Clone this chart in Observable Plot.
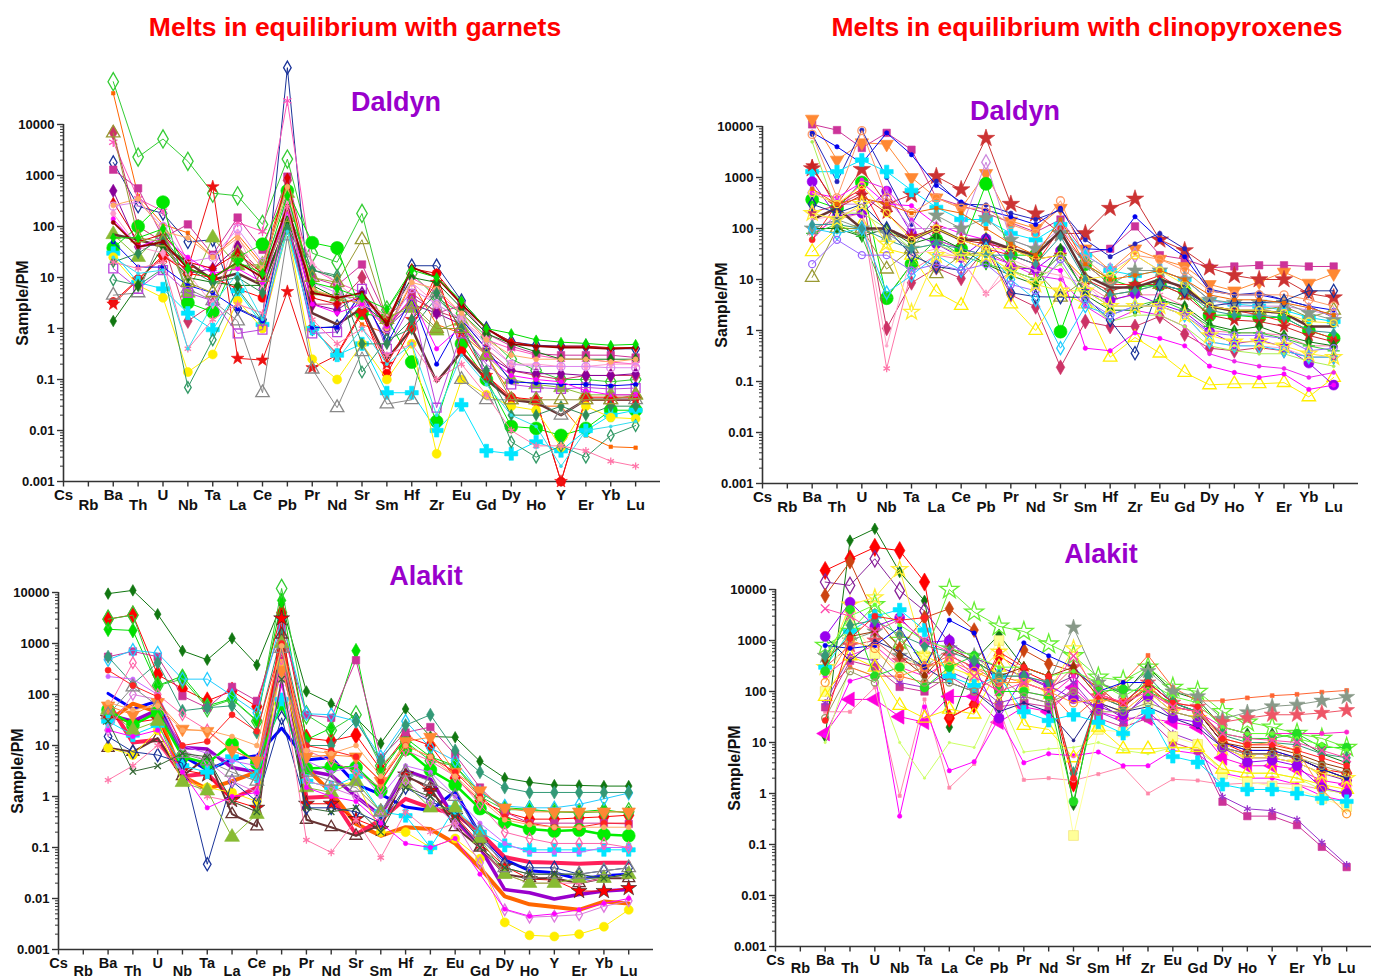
<!DOCTYPE html>
<html><head><meta charset="utf-8">
<script src="https://cdn.jsdelivr.net/npm/d3@7"></script>
<script src="https://cdn.jsdelivr.net/npm/@observablehq/plot@0.6"></script>
<style>
body{margin:0;background:#fff;}
#root{position:relative;width:1373px;height:979px;overflow:hidden;background:#fff;font-family:"Liberation Sans",Arial,Helvetica,sans-serif;}
.title{position:absolute;white-space:nowrap;font-weight:bold;transform:translateX(-50%);line-height:1;}
.main{color:#ff0000;font-size:26.5px;}
.sub{color:#9900cc;font-size:27px;}
.panel{position:absolute;}
g[aria-label="ylab"] text{letter-spacing:0.8px;}
</style></head>
<body>
<div id="root">
  <div class="title main" style="left:355px;top:13.6px">Melts in equilibrium with garnets</div>
  <div class="title main" style="left:1087px;top:13.6px">Melts in equilibrium with clinopyroxenes</div>
  <div class="title sub" style="left:396px;top:88.5px">Daldyn</div>
  <div class="title sub" style="left:1015px;top:98px">Daldyn</div>
  <div class="title sub" style="left:426px;top:563px">Alakit</div>
  <div class="title sub" style="left:1101px;top:541px">Alakit</div>
</div>
<script>
// ---------------- data ----------------
const ELEMENTS = ["Cs","Rb","Ba","Th","U","Nb","Ta","La","Ce","Pb","Pr","Nd","Sr","Sm","Hf","Zr","Eu","Gd","Dy","Ho","Y","Er","Yb","Lu"];
const FIRST_WITH_DATA = 2; // series start at Ba
const Y_TICKS = [0.001, 0.01, 0.1, 1, 10, 100, 1000, 10000];
const Y_TICK_LABELS = ["0.001","0.01","0.1","1","10","100","1000","10000"];

// Garnet melts, Daldyn (Ba ... Lu)
const garnetDaldynValues = [
  [69000, 2300, 5200, 1900, 450, 400, 110, 2100, 30, 20, 180, 2.3, 12, 4, 2, 0.7, 0.25, 0.15, 0.1, 0.1, 0.09, 0.1],
  [41000, 400, 110, 75, 25, 70, 18, 900, 5, 4.5, 1.2, 0.8, 8, 1.2, 0.8, 0.3, 0.05, 0.03, 0.03, 0.008, 0.0048, 0.0046],
  [1800, 250, 180, 50, 55, 2.5, 1.5, 130000, 1, 1.1, 4, 0.6, 17, 17, 3.5, 1, 0.55, 0.47, 0.45, 0.45, 0.4, 0.4],
  [4500, 350, 200, 20, 15, 120, 80, 29000, 15, 8, 5, 1.5, 10, 5, 2, 0.6, 0.4, 0.3, 0.25, 0.25, 0.22, 0.2],
  [1300, 560, 60, 110, 28, 150, 35, 950, 10, 7, 18, 1.6, 5, 2, 2.8, 0.8, 0.45, 0.32, 0.3, 0.3, 0.3, 0.27],
  [7000, 100, 50, 1.4, 3, 40, 12, 800, 3, 3, 10, 1, 4, 2.2, 1.5, 0.4, 0.15, 0.12, 0.1, 0.12, 0.12, 0.12],
  [500, 40, 45, 12, 15, 40, 6, 300, 3, 2.3, 5, 1, 3, 2, 1.2, 0.3, 0.15, 0.13, 0.13, 0.12, 0.12, 0.13],
  [38, 100, 300, 3.2, 2.1, 25, 45, 500, 48, 38, 2, 1.6, 0.22, 0.015, 0.5, 0.1, 0.012, 0.011, 0.008, 0.011, 0.025, 0.025],
  [70, 25, 80, 5, 60, 17, 18, 450, 5.5, 4.2, 4, 1.7, 2.5, 0.9, 1.4, 0.3, 0.1, 0.08, 0.07, 0.05, 0.05, 0.05],
  [70, 55, 40, 20, 9, 12, 7, 110, 2, 1.2, 2.5, 0.25, 1, 0.09, 0.35, 0.1, 0.04, 0.035, 0.02, 0.04, 0.04, 0.04],
  [3.3, 9.3, 27, 12, 10, 6, 4, 120, 1, 0.32, 2.2, 0.13, 1, 12, 0.36, 0.12, 0.045, 0.04, 0.001, 0.045, 0.045, 0.045],
  [3, 9, 25, 15, 600, 0.26, 0.24, 5.3, 0.17, 0.3, 2, 0.2, 1.5, 8, 0.8, 0.12, 0.04, 0.04, 0.001, 0.04, 0.04, 0.04],
  [30, 8, 6, 2, 0.95, 5.5, 1.2, 100, 1, 0.3, 0.5, 0.055, 0.055, 0.01, 0.032, 0.004, 0.0035, 0.006, 0.004, 0.01, 0.02, 0.025],
  [25, 7, 4, 0.14, 0.31, 3.5, 1, 90, 0.25, 0.1, 0.5, 0.1, 0.5, 0.0035, 0.1, 0.05, 0.03, 0.025, 0.0047, 0.03, 0.018, 0.017],
  [9, 7, 15, 0.07, 0.6, 6, 1.4, 200, 14, 11, 0.14, 0.6, 1, 4, 1.3, 0.1, 0.006, 0.003, 0.005, 0.003, 0.008, 0.0125],
  [4.5, 5, 70, 6, 3.5, 1.4, 0.055, 65, 0.16, 0.028, 0.35, 0.033, 0.04, 5, 0.1, 0.04, 0.04, 0.04, 0.02, 0.04, 0.04, 0.04],
  [15, 6, 14, 5, 3.5, 0.8, 0.95, 150, 0.8, 0.85, 6, 0.4, 3, 0.028, 0.8, 0.2, 0.08, 0.07, 0.065, 0.07, 0.065, 0.068],
  [50, 16, 16, 7, 5, 2.4, 1.4, 300, 1.05, 1.05, 5, 0.5, 4, 0.2, 1.5, 0.4, 0.09, 0.085, 0.08, 0.08, 0.075, 0.08],
  [1.4, 7, 40, 10, 8, 7, 7, 130, 7, 4, 3, 1.3, 10, 8, 2.5, 0.8, 0.5, 0.35, 0.25, 0.25, 0.25, 0.25],
  [180, 40, 30, 12, 3, 70, 6, 300, 18, 8, 3, 1.8, 8, 3, 1.5, 0.6, 0.2, 0.2, 0.18, 0.18, 0.2, 0.2],
  [300, 50, 70, 20, 15, 30, 12, 900, 4, 3, 4, 1.4, 15, 12, 3, 1, 0.55, 0.45, 0.45, 0.45, 0.42, 0.42],
  [250, 300, 100, 20, 25, 90, 20, 200, 8, 5, 3, 1, 6, 3, 1.5, 0.5, 0.2, 0.18, 0.18, 0.18, 0.17, 0.17],
  [260, 350, 80, 60, 25, 60, 15, 600, 6, 4, 3, 1, 8, 6, 2, 0.6, 0.3, 0.25, 0.25, 0.25, 0.22, 0.25],
  [140, 40, 60, 25, 12, 15, 8, 200, 3, 2, 3, 1.1, 4, 0.4, 1.1, 0.3, 0.12, 0.1, 0.09, 0.06, 0.05, 0.05],
  [20, 30, 60, 15, 8, 10, 5, 90, 14, 10, 0.5, 0.5, 1.5, 5, 1, 0.15, 0.02, 0.02, 0.03, 0.02, 0.03, 0.03],
  [6800, 60, 50, 8, 5, 30, 10, 150, 10, 8, 55, 1.5, 3, 1, 1, 0.3, 0.04, 0.04, 0.04, 0.04, 0.04, 0.05],
  [120, 40, 50, 15, 10, 20, 10, 250, 5, 4, 5, 1.2, 16, 10, 3, 1, 0.5, 0.45, 0.42, 0.42, 0.4, 0.42],
  [20, 15, 20, 0.4, 1.5, 3, 2, 250, 1.5, 0.5, 1, 0.3, 0.5, 0.1, 0.2, 0.05, 0.01, 0.005, 0.005, 0.004, 0.0025, 0.002],
  [60, 60, 90, 15, 10, 20, 12, 400, 8, 6, 4, 2.4, 14, 10, 3.5, 1, 0.8, 0.6, 0.54, 0.51, 0.47, 0.49],
  [25, 12, 14, 0.4, 3, 12, 1.5, 80, 1.2, 0.25, 1, 0.2, 0.5, 0.02, 0.3, 0.08, 0.02, 0.012, 0.002, 0.01, 0.012, 0.015]
];
const garnetDaldynStyles = ["greenOpenDiamond","orangeSq","navyOpenDiamond","pinkOpenStar","magSq","crimDiamond","purpleDiamond","greenBig","oliveTri","brownThick","redDot","redStar","cyanCross","yellowDot","tealOpenDiamond","grayOpenTri","violetOpenSq","blueDot","dkGreenDiamond","ltPinkDiamond","redSmDiamond","lavOpenCircle","salmonDot","magDot","seaDiamond","oliveOpenTri","darkRed","pinkAst","greenTop","cyanLine"];

// Clinopyroxene melts, Daldyn
const cpxDaldynValues = [
  [11000, 8500, 3800, 7500, 3500, 400, 280, 200, 130, 85, 150, 32, 40, 110, 30, 25, 17, 18, 19, 19, 18, 18],
  [14000, 2200, 4800, 4500, 1000, 400, 250, 1200, 140, 100, 250, 40, 15, 40, 25, 18, 8, 6, 9, 14, 8.5, 13],
  [1500, 300, 1450, 300, 460, 1050, 580, 5900, 300, 195, 80, 80, 250, 380, 60, 37, 17, 12, 10, 10, 5.3, 4.4],
  [7700, 4000, 1900, 7500, 2800, 700, 330, 230, 170, 120, 250, 40, 38, 170, 60, 28, 6, 5, 5, 4, 3, 2.5],
  [7000, 830, 8500, 1000, 120, 850, 300, 290, 200, 150, 230, 60, 28, 50, 80, 40, 6.5, 5, 5.5, 4, 3, 1.8],
  [1300, 1300, 2200, 1300, 560, 260, 150, 150, 80, 60, 120, 30, 15, 12, 15, 10, 4, 3.3, 3, 2.5, 1.8, 1.5],
  [370, 250, 800, 4.3, 20, 60, 40, 750, 30, 30, 0.95, 20, 10, 7, 8, 6, 2, 2, 1.8, 1.8, 1, 0.7],
  [210, 280, 500, 1.1, 8.6, 17, 10.5, 40, 5, 2.9, 0.19, 1.5, 1.2, 1.2, 1.9, 0.85, 0.45, 0.4, 0.46, 0.4, 0.3, 0.3],
  [80, 150, 200, 0.18, 15, 30, 25, 5.3, 15, 10, 30, 8, 4, 5, 5, 3, 1, 0.9, 0.9, 0.8, 0.5, 0.5],
  [35, 100, 120, 40, 30, 5.7, 3.1, 60, 3.3, 1.0, 5.6, 3.3, 0.3, 0.73, 0.36, 0.15, 0.086, 0.09, 0.09, 0.095, 0.05, 0.12],
  [11, 100, 100, 16, 40, 13, 30, 35, 20, 15, 4.5, 10, 5, 6, 8, 5, 3, 2.5, 2.5, 3, 1.8, 2.5],
  [830, 170, 200, 540, 80, 50, 27, 63, 17, 16, 37, 5.5, 3.9, 5.2, 3.3, 2.3, 0.95, 0.55, 0.65, 0.48, 0.23, 0.085],
  [500, 400, 800, 300, 280, 120, 80, 60, 30, 20, 15, 0.45, 0.4, 0.9, 0.7, 0.5, 0.2, 0.15, 0.12, 0.14, 0.07, 0.085],
  [60, 200, 900, 600, 150, 60, 40, 30, 20, 12, 10, 3, 1.5, 2.5, 2, 1.2, 0.35, 0.25, 0.2, 0.18, 0.12, 0.15],
  [500, 300, 300, 400, 100, 100, 100, 2000, 60, 40, 100, 30, 15, 30, 15, 10, 4, 3, 3, 3, 2.5, 2],
  [60, 300, 600, 80, 60, 100, 60, 40, 30, 20, 100, 20, 8, 8, 12, 6, 3, 2.5, 2, 1.5, 1, 0.7],
  [1700, 250, 450, 200, 70, 100, 60, 50, 40, 25, 30, 10, 6, 8, 8, 5, 2, 1.6, 1.5, 1.2, 0.8, 0.6],
  [100, 100, 70, 100, 50, 70, 40, 20, 12, 8, 40, 5, 2.5, 2.5, 4, 3, 1.3, 1, 1.2, 0.8, 0.6, 0.5],
  [80, 120, 70, 4.5, 20, 60, 30, 20, 15, 10, 30, 6, 3, 3, 4, 2.5, 1.2, 0.9, 0.9, 0.7, 0.5, 0.4],
  [100, 150, 100, 80, 40, 180, 100, 160, 60, 40, 80, 20, 8, 15, 15, 10, 4, 3.5, 3.5, 3.5, 2.2, 1.6],
  [150, 250, 100, 100, 60, 100, 60, 60, 40, 30, 90, 12, 7, 7, 10, 7, 3, 2.4, 2.4, 2.2, 1.2, 1.2],
  [5000, 200, 200, 100, 40, 50, 30, 30, 15, 10, 20, 4, 1.5, 2, 2, 1.2, 0.5, 0.4, 0.35, 0.35, 0.25, 0.2],
  [150, 180, 250, 0.5, 30, 40, 25, 5, 25, 15, 12, 8, 3, 3, 3, 2, 0.6, 0.5, 0.5, 0.45, 0.3, 0.3],
  [7000, 400, 8300, 400, 200, 400, 250, 250, 120, 80, 350, 25, 10, 30, 25, 15, 6, 5, 5, 5, 4, 3],
  [300, 200, 300, 100, 30, 18, 15, 60, 5.5, 4.6, 4.5, 4.5, 1.6, 0.36, 8, 6, 3, 3.5, 3.5, 3.8, 6, 6],
  [100, 80, 100, 5.5, 12, 30, 15, 40, 10, 4, 0.45, 3, 2, 3, 3, 2, 0.6, 0.5, 0.5, 0.4, 0.3, 0.3],
  [500, 300, 700, 200, 60, 100, 60, 40, 40, 25, 30, 10, 12, 30, 15, 8, 3, 2.5, 2.5, 2.2, 1.5, 1.4],
  [600, 300, 400, 300, 200, 250, 200, 100, 50, 30, 150, 20, 10, 12, 15, 10, 5, 4, 4, 3.5, 2.8, 2],
  [120, 120, 100, 60, 40, 50, 40, 30, 30, 20, 70, 10, 5, 6, 8, 6, 2.5, 2, 2, 1.8, 1, 0.9],
  [20, 60, 30, 30, 15, 20, 15, 20, 8, 6, 25, 4, 2, 3, 3, 2, 0.9, 0.8, 0.8, 0.7, 0.4, 0.45],
  [200, 150, 300, 50, 2.3, 30, 30, 30, 15, 8, 6, 6, 3, 3, 3, 2, 0.8, 0.6, 0.6, 0.5, 0.35, 0.3]
];
const cpxDaldynStyles = ["magSq","orangeTriDown","brickStar","blueDot","blueDot2","cyanCross","greenBig","crimDiamond","pinkAst","yellowOpenTri","oliveOpenTri","purpleBig","magDot","magDot2","lilacOpenDiamond","redDotSm","darkRedStar","dkGreenDiamond","ltGreenPlus","grayStar","brownThick","paleGreen","ltPinkLine","salmonOpenCircle","navyOpenDiamond","cyanOpenDiamond","yellowOpenCircle","dkOrange","tealDiamond","violetOpenCircle","yellowOpenStar"];

// Garnet melts, Alakit
const garnetAlakitValues = [
  [9500, 11000, 3760, 720, 480, 1260, 380, 6000, 115, 66, 35, 11, 52, 15, 14.5, 4.9, 2.3, 1.9, 1.67, 1.65, 1.6, 1.6],
  [3000, 3650, 245, 130, 75, 117, 58, 4000, 14, 12.3, 16, 3.4, 15, 10, 2.3, 0.83, 0.49, 0.36, 0.36, 0.38, 0.4, 0.43],
  [1900, 1800, 150, 230, 60, 83, 31, 7000, 13, 22, 720, 3, 14, 6, 4, 1.2, 0.6, 0.56, 0.5, 0.5, 0.55, 0.47],
  [3000, 3600, 150, 200, 55, 80, 30, 12000, 40, 20, 40, 4, 12, 5, 4, 1, 0.55, 0.55, 0.5, 0.48, 0.5, 0.5],
  [550, 700, 550, 93, 55, 141, 75, 2000, 40, 35, 470, 5.8, 18, 23, 6.6, 1.5, 0.5, 0.3, 0.3, 0.3, 0.3, 0.29],
  [480, 740, 650, 200, 200, 95, 44, 3000, 42, 40, 30, 6, 30, 9, 5, 1.2, 0.65, 0.6, 0.6, 0.7, 0.9, 1.17],
  [550, 160, 420, 48, 55, 60, 18, 1500, 10, 10, 30, 5, 25, 40, 8, 3, 1.5, 1.2, 1.2, 1.2, 1.2, 1.2],
  [105, 52, 75, 6.3, 3.3, 5.3, 6.3, 22, 5.2, 5.8, 1.75, 1.1, 0.62, 0.53, 1.27, 0.18, 0.058, 0.035, 0.032, 0.024, 0.028, 0.03],
  [40, 30, 50, 9.1, 8.5, 3.7, 3.0, 500, 3.2, 2.6, 1.0, 0.42, 3.2, 2.2, 0.36, 0.1, 0.015, 0.013, 0.0098, 0.012, 0.014, 0.015],
  [30, 66, 45, 2.5, 1.4, 2.0, 3.0, 1000, 3.6, 1.2, 0.29, 0.17, 0.25, 0.23, 0.12, 0.04, 0.011, 0.0077, 0.0068, 0.006, 0.0087, 0.008],
  [70, 11.4, 13, 2.5, 2.8, 0.9, 1.5, 1000, 0.95, 1.0, 0.18, 0.35, 0.9, 0.6, 0.45, 0.2, 0.065, 0.052, 0.05, 0.048, 0.05, 0.05],
  [35, 28, 33, 3.3, 2.7, 0.85, 0.6, 3100, 0.72, 0.72, 0.36, 0.23, 2.7, 1.3, 0.42, 0.12, 0.043, 0.024, 0.023, 0.014, 0.014, 0.016],
  [9, 7.5, 14, 2.5, 6, 0.45, 0.26, 1500, 0.35, 0.25, 0.17, 0.28, 2.5, 1.5, 0.25, 0.1, 0.03, 0.025, 0.025, 0.02, 0.025, 0.025],
  [9, 6.5, 20, 2, 1.5, 1.2, 0.8, 400, 2, 1.5, 2, 0.2, 0.2, 0.1, 0.15, 0.06, 0.0034, 0.0019, 0.0018, 0.002, 0.0028, 0.006],
  [50, 25, 45, 6, 4.5, 10.7, 4.5, 65, 3.5, 3.8, 3.7, 1.3, 8.4, 3.3, 1.7, 0.58, 0.31, 0.23, 0.21, 0.22, 0.18, 0.17],
  [30, 16, 25, 4, 3, 6, 2.5, 80, 2, 1.5, 2.5, 0.5, 0.42, 0.1, 0.6, 0.2, 0.11, 0.09, 0.09, 0.09, 0.09, 0.09],
  [15, 7.5, 6.5, 4.5, 0.047, 2, 0.8, 35, 0.6, 0.6, 0.5, 0.3, 1.5, 0.8, 0.5, 0.15, 0.05, 0.04, 0.04, 0.03, 0.035, 0.04],
  [2.1, 4, 10, 3, 1, 0.8, 0.5, 200, 0.14, 0.08, 0.35, 0.063, 0.5, 0.2, 0.3, 0.1, 0.03, 0.02, 0.02, 0.02, 0.025, 0.03],
  [50, 20, 30, 1.9, 1.3, 0.16, 0.45, 1000, 1.5, 1.2, 2, 0.5, 1.8, 0.6, 0.6, 0.15, 0.03, 0.02, 0.02, 0.025, 0.025, 0.03],
  [20, 100, 80, 8, 5, 2, 1.2, 200, 2, 1.5, 1, 0.4, 2, 0.8, 0.3, 0.05, 0.006, 0.0043, 0.0045, 0.0048, 0.007, 0.009],
  [20, 15, 20, 3, 0.6, 1, 1.2, 150, 1.5, 1, 0.8, 0.3, 0.12, 0.1, 0.15, 0.03, 0.0062, 0.0045, 0.005, 0.006, 0.008, 0.01],
  [225, 200, 100, 10, 7, 5, 4, 300, 5, 3, 4, 1, 4, 3, 1, 0.3, 0.12, 0.08, 0.08, 0.08, 0.1, 0.1],
  [55, 420, 100, 40, 20, 8, 5, 500, 8, 5, 3, 1.5, 8, 5, 2.5, 0.7, 0.2, 0.15, 0.12, 0.12, 0.12, 0.1],
  [60, 40, 70, 21, 19, 8, 5, 300, 6, 6.5, 6, 2, 12, 14.6, 3, 1.3, 0.6, 0.5, 0.5, 0.5, 0.5, 0.5],
  [40, 140, 60, 7, 5, 3, 2, 800, 3, 2, 1.5, 0.5, 3, 2, 1, 0.2, 0.04, 0.03, 0.03, 0.03, 0.035, 0.04],
  [30, 3.1, 4, 7, 6, 0.8, 0.5, 200, 0.6, 0.5, 0.6, 0.2, 1.5, 1, 0.4, 0.1, 0.04, 0.03, 0.03, 0.03, 0.025, 0.03],
  [300, 150, 90, 10, 12, 40, 19, 1000, 10, 8, 6, 2, 10, 6, 3, 1, 0.4, 0.3, 0.25, 0.25, 0.3, 0.3],
  [70, 50, 60, 20, 20, 15, 10, 900, 8, 7, 10, 2.5, 10, 6, 2.5, 0.9, 0.35, 0.28, 0.25, 0.25, 0.25, 0.25]
];
const garnetAlakitStyles = ["dkGreenDiamond","redBigDiamond","ltGreenDiamond","greenOpenDiamond","magSq","cyanOpenDiamond","tealDiamond2","blueThick","purpleThick","orangeThick","crimsonThick","redStarBlack","brownOpenTri","yellowDot","greenBigThick","cyanCross","navyOpenDiamond","pinkAst","oliveTri","lavOpenDiamond","magDot","ltPurpleDot","roseOpenDiamond","orangeTriDown","grayOpenTri","dkGreenTimes","redDotSm","salmonDot"];

// Clinopyroxene melts, Alakit
const cpxAlakitValues = [
  [13, 91000, 155000, 22000, 6000, 20, 400, 1300, 300, 200, 0.6, 150, 90, 300, 100, 70, 20, 15, 15, 12, 6, 4],
  [23600, 40000, 67000, 58000, 14000, 30, 55, 500, 250, 150, 1.6, 90, 60, 150, 60, 40, 10, 6, 6, 5, 3, 2.5],
  [14000, 12000, 40000, 9500, 3800, 900, 450, 300, 200, 120, 200, 60, 30, 100, 40, 30, 8, 5, 5, 4, 2.5, 1.8],
  [800, 1500, 5000, 1000, 500, 10000, 3600, 1900, 1500, 850, 500, 190, 165, 300, 120, 100, 40, 25, 20, 15, 12, 8],
  [7600, 35000, 3000, 700, 2800, 4200, 1600, 60, 650, 350, 250, 120, 50, 130, 50, 40, 10, 7, 7, 5, 3, 2],
  [15, 70, 70, 32, 25, 80, 80, 25, 50, 40, 120, 40, 30, 30, 25, 20, 5, 3.5, 3.5, 3, 1.8, 1.5],
  [40, 40, 120, 0.9, 70, 1.3, 3.8, 50, 1.85, 2, 1.8, 2.4, 3.3, 1.0, 1.9, 1.8, 1.5, 1.6, 1.6, 1.5, 1.2, 1.0],
  [14, 160, 220, 0.36, 50, 2.8, 4.2, 30, 4, 6, 5.5, 6.5, 3.5, 3.5, 7, 6, 2.5, 2, 2, 1.5, 0.9, 0.7],
  [10, 300, 200, 10, 2, 10, 8, 80, 6.5, 7.5, 8, 10, 7, 6, 8, 7, 3, 2.5, 2.5, 2, 1.2, 1],
  [100, 300, 200, 200, 150, 500, 300, 200, 150, 100, 30, 80, 150, 510, 120, 65, 66, 75, 83, 88, 97, 105],
  [500, 1000, 1500, 500, 300, 700, 500, 200, 200, 150, 1800, 150, 100, 250, 100, 80, 29, 39, 51, 55, 66, 78],
  [300, 800, 1000, 400, 300, 500, 300, 150, 150, 100, 300, 80, 60, 150, 60, 50, 25, 30, 35, 35, 38, 43],
  [200, 500, 800, 300, 200, 400, 200, 100, 100, 80, 200, 60, 40, 100, 50, 40, 20, 15, 15, 15, 15, 16],
  [49, 400, 300, 123, 100, 200, 100, 50, 60, 50, 100, 30, 20, 30, 10, 7, 0.69, 0.36, 0.36, 0.24, 0.09, 0.036],
  [60, 500, 400, 150, 120, 250, 150, 60, 80, 60, 150, 40, 25, 40, 15, 10, 0.87, 0.5, 0.46, 0.31, 0.11, 0.04],
  [100, 2450, 550, 300, 500, 300, 200, 1000, 200, 100, 0.15, 18, 16, 60, 13, 9.2, 2.4, 1.7, 1.4, 1.2, 0.8, 0.55],
  [80, 500, 300, 53, 30, 45, 36, 300, 21.6, 18, 5, 20, 7.5, 7.5, 8, 8, 3, 2.5, 2.5, 2, 1.5, 1.2],
  [300, 5000, 7000, 25000, 500, 300, 200, 600, 150, 100, 700, 60, 40, 100, 40, 30, 8, 5, 5, 4, 2.5, 2],
  [800, 700, 800, 1800, 300, 2500, 1400, 100, 900, 500, 300, 100, 150, 150, 60, 40, 10, 7, 7, 5, 3, 2],
  [1200, 400, 1000, 600, 300, 150, 100, 40, 60, 40, 11, 60, 40, 50, 30, 20, 8, 6, 6, 5, 3, 2],
  [1200, 5600, 1900, 2800, 900, 1000, 315, 30, 200, 130, 72, 50, 35, 80, 30, 25, 8, 4.1, 4.5, 3.5, 1.3, 1.0],
  [300, 1500, 3000, 4000, 1600, 200, 130, 200, 40, 27, 35, 25, 15, 40, 5.3, 4.1, 1.5, 1.2, 1.2, 1, 0.8, 0.7],
  [400, 1200, 1500, 500, 200, 700, 400, 200, 300, 200, 300, 80, 50, 120, 50, 40, 10, 8, 8, 6, 4, 3],
  [250, 4000, 200, 300, 120, 300, 500, 100, 100, 80, 0.7, 100, 110, 100, 60, 40, 15, 12, 12, 15, 8, 8],
  [500, 3000, 5000, 2000, 1000, 700, 500, 300, 300, 200, 250, 150, 80, 150, 80, 60, 20, 15, 15, 12, 9, 7],
  [500, 2000, 2500, 1300, 800, 600, 400, 200, 200, 150, 2.5, 80, 50, 200, 60, 40, 14, 10, 10, 9, 6, 5],
  [150, 1000, 700, 200, 300, 400, 250, 150, 150, 100, 60, 70, 60, 120, 50, 40, 12, 9, 10, 7, 1.2, 0.4],
  [30, 250, 150, 1300, 150, 150, 100, 200, 80, 60, 100, 40, 40, 60, 40, 30, 8, 6, 6, 5, 3.5, 2.5],
  [27, 1100, 3000, 2500, 2800, 31, 55, 600, 300, 200, 2, 80, 60, 150, 60, 50, 12, 9, 9, 7, 5, 3.5],
  [4200, 3000, 1500, 2600, 1000, 600, 200, 100, 150, 100, 500, 90, 60, 100, 50, 40, 15, 12, 11, 10, 7, 5]
];
const cpxAlakitStyles = ["dkGreenDiamond","redBigDiamond","dkPurpleOpenDiamond","greenOpenStar","brickDiamond","magTriLeft","pinkSq","magDot","yellowGreen","orangeSqSm","grayStar","salmonStar","pinkDot","magSq","purpleAst","paleYellowSq","yellowOpenTri","yellowOpenStar","blueDot","navyLine","purpleBig","cyanCross","dkRedDiamond","greenDot","lime","tealDiamond2","orangeOpenCircle","oliveOpenCircle","redDotSm","hotPinkTimes"];

// ---------------- styles ----------------
const STYLES = {
  greenOpenDiamond: {c: "#33cc33", s: "diamond", open: true, r: 5.5},
  orangeSq: {c: "#ff6600", s: "square", r: 2},
  navyOpenDiamond: {c: "#1a3399", s: "diamond", open: true, r: 4},
  pinkOpenStar: {c: "#ff55bb", s: "asterisk", open: true, r: 4.5},
  magSq: {c: "#cc3399", s: "square", r: 4.2},
  crimDiamond: {c: "#cc3366", s: "diamond", r: 4.5},
  purpleDiamond: {c: "#880099", s: "diamond", r: 4},
  greenBig: {c: "#00e600", s: "circle", r: 6.5},
  oliveTri: {c: "#88bb33", s: "triangle", r: 5.5},
  brownThick: {c: "#663333", w: 2.5},
  redDot: {c: "#ff0000", s: "circle", r: 4.5},
  redStar: {c: "#ee1111", s: "star", r: 4},
  cyanCross: {c: "#00e5ff", s: "cross", r: 5.5},
  yellowDot: {c: "#ffee00", s: "circle", r: 4.5},
  tealOpenDiamond: {c: "#339966", s: "diamond", open: true, r: 3.5},
  grayOpenTri: {c: "#888888", s: "triangle", open: true, r: 5},
  violetOpenSq: {c: "#bb44dd", s: "square", open: true, r: 5},
  blueDot: {c: "#0000ee", s: "circle", r: 2.2},
  blueDot2: {c: "#2222bb", s: "circle", r: 2.2},
  dkGreenDiamond: {c: "#117711", s: "diamond", r: 3.5},
  ltPinkDiamond: {c: "#ff99cc", s: "diamond", r: 3},
  redSmDiamond: {c: "#dd0000", s: "diamond", r: 3},
  lavOpenCircle: {c: "#dd88ee", s: "circle", open: true, r: 4},
  salmonDot: {c: "#ffaa66", s: "circle", r: 2.5},
  magDot: {c: "#ff00ff", s: "circle", r: 2.2},
  magDot2: {c: "#ee22ee", s: "circle", r: 2},
  seaDiamond: {c: "#2e8b57", s: "diamond", r: 3.5},
  oliveOpenTri: {c: "#999933", s: "triangle", open: true, r: 5},
  darkRed: {c: "#990000", s: "circle", r: 2, w: 1.8},
  pinkAst: {c: "#ff77aa", s: "asterisk", open: true, r: 3.5},
  greenTop: {c: "#00dd00", s: "diamond", r: 3},
  cyanLine: {c: "#33ddee", s: "circle", r: 1.5},
  orangeTriDown: {c: "#ff8833", s: "triDown", r: 5},
  brickStar: {c: "#cc3333", s: "star", r: 5.5},
  purpleBig: {c: "#9900ee", s: "circle", r: 5},
  yellowOpenTri: {c: "#ffee00", s: "triangle", open: true, r: 5},
  lilacOpenDiamond: {c: "#cc88dd", s: "diamond", open: true, r: 4.5},
  redDotSm: {c: "#ff2222", s: "circle", r: 3},
  darkRedStar: {c: "#cc2222", s: "star", r: 4},
  ltGreenPlus: {c: "#33cc33", s: "plus", open: true, r: 4},
  grayStar: {c: "#889988", s: "star", r: 5},
  paleGreen: {c: "#aaee55", s: "circle", r: 1.5},
  ltPinkLine: {c: "#ffaacc", s: "circle", r: 1.5},
  salmonOpenCircle: {c: "#ff9966", s: "circle", open: true, r: 4},
  cyanOpenDiamond: {c: "#22ccff", s: "diamond", open: true, r: 4},
  yellowOpenCircle: {c: "#ffee33", s: "circle", open: true, r: 3.5},
  dkOrange: {c: "#ee6600", s: "square", r: 2},
  tealDiamond: {c: "#339999", s: "diamond", r: 3},
  violetOpenCircle: {c: "#9966ff", s: "circle", open: true, r: 3.5},
  yellowOpenStar: {c: "#ffee33", s: "star", open: true, r: 5},
  redBigDiamond: {c: "#ff0000", s: "diamond", r: 5.5},
  ltGreenDiamond: {c: "#00dd00", s: "diamond", r: 4.5},
  tealDiamond2: {c: "#339977", s: "diamond", r: 4},
  blueThick: {c: "#0000ff", w: 3},
  purpleThick: {c: "#9900cc", w: 3.5},
  orangeThick: {c: "#ff6600", w: 4},
  crimsonThick: {c: "#ff1f5a", w: 4},
  redStarBlack: {c: "#ff0000", s: "star", r: 5, k: "#222222"},
  brownOpenTri: {c: "#663333", s: "triangle", open: true, r: 4.5, w: 2},
  greenBigThick: {c: "#00ee00", s: "circle", r: 6.5, w: 2.5},
  lavOpenDiamond: {c: "#dd77dd", s: "diamond", open: true, r: 3.5},
  ltPurpleDot: {c: "#cc66ff", s: "circle", r: 2.2},
  roseOpenDiamond: {c: "#ff66aa", s: "diamond", open: true, r: 3.5},
  dkGreenTimes: {c: "#336633", s: "times", open: true, r: 3},
  dkPurpleOpenDiamond: {c: "#882299", s: "diamond", open: true, r: 5},
  greenOpenStar: {c: "#66ee33", s: "star", open: true, r: 6},
  brickDiamond: {c: "#cc4411", s: "diamond", r: 4.5},
  magTriLeft: {c: "#ff00dd", s: "triLeft", r: 5.5},
  pinkSq: {c: "#ff88aa", s: "square", r: 1.8},
  yellowGreen: {c: "#ccff66", s: "circle", r: 1.2},
  orangeSqSm: {c: "#ff6633", s: "square", r: 2.2},
  salmonStar: {c: "#ee5566", s: "star", r: 5},
  pinkDot: {c: "#ff22cc", s: "circle", r: 2.2},
  purpleAst: {c: "#9933cc", s: "asterisk", open: true, r: 3.5},
  paleYellowSq: {c: "#ffff99", s: "square", r: 5.5, k: "#eedd66"},
  navyLine: {c: "#222288", s: "circle", r: 1.5},
  dkRedDiamond: {c: "#993300", s: "diamond", r: 3.5},
  greenDot: {c: "#22dd22", s: "circle", r: 4.5},
  lime: {c: "#66ff33", s: "circle", r: 2},
  orangeOpenCircle: {c: "#ff9933", s: "circle", open: true, r: 4},
  oliveOpenCircle: {c: "#999966", s: "circle", open: true, r: 3.5},
  hotPinkTimes: {c: "#ff44aa", s: "times", open: true, r: 4}
};

// ---------------- drawing ----------------
const SQRT3 = Math.sqrt(3);
const CUSTOM_SYMBOLS = {
  triDown: {draw(ctx, size) { const a = Math.sqrt(size / (SQRT3 * 3)); ctx.moveTo(0, 2 * a); ctx.lineTo(SQRT3 * a, -a); ctx.lineTo(-SQRT3 * a, -a); ctx.closePath(); }},
  triLeft: {draw(ctx, size) { const a = Math.sqrt(size / (SQRT3 * 3)); ctx.moveTo(-2 * a, 0); ctx.lineTo(a, -SQRT3 * a); ctx.lineTo(a, SQRT3 * a); ctx.closePath(); }}
};
const tickLeft = (len) => ({draw(ctx) { ctx.moveTo(0, 0); ctx.lineTo(-len, 0); }});
const tickDown = {draw(ctx) { ctx.moveTo(0, 0); ctx.lineTo(0, 5); }};
const AXIS = "#333333";

const PANELS = [
  {values: garnetDaldynValues, styles: garnetDaldynStyles, left: 0, top: 40, width: 680, height: 490, mL: 63, mR: 20, mT: 84, mB: 49, oddDy: 24, labSize: 15},
  {values: cpxDaldynValues, styles: cpxDaldynStyles, left: 690, top: 40, width: 683, height: 490, mL: 72, mR: 15, mT: 86, mB: 47, oddDy: 24, labSize: 15},
  {values: garnetAlakitValues, styles: garnetAlakitStyles, left: 0, top: 530, width: 680, height: 449, mL: 58, mR: 27, mT: 62, mB: 30, oddDy: 21.5, labSize: 14.5},
  {values: cpxAlakitValues, styles: cpxAlakitStyles, left: 690, top: 530, width: 683, height: 449, mL: 85, mR: 2, mT: 59, mB: 33, oddDy: 22, labSize: 14.5}
];

const minorTicks = [];
for (let e = -3; e < 4; e++) for (let k = 2; k <= 9; k++) minorTicks.push(k * Math.pow(10, e));
const idx = d3.range(ELEMENTS.length);

function drawPanel(p) {
  const marks = [
    Plot.ruleX([0], {y1: 0.001, y2: 10000, stroke: AXIS, strokeWidth: 1.6}),
    Plot.ruleY([0.001], {x1: 0, x2: ELEMENTS.length, stroke: AXIS, strokeWidth: 1.6}),
    Plot.dot(minorTicks, {x: () => 0, y: d => d, r: 1, symbol: tickLeft(3.5), stroke: AXIS, fill: "none", strokeWidth: 1}),
    Plot.dot(Y_TICKS, {x: () => 0, y: d => d, r: 1, symbol: tickLeft(6.5), stroke: AXIS, fill: "none", strokeWidth: 1.4}),
    Plot.dot(idx, {x: d => d, y: () => 0.001, r: 1, symbol: tickDown, stroke: AXIS, fill: "none", strokeWidth: 1.4}),
    Plot.text(Y_TICKS, {x: () => 0, y: d => d, text: (d, i) => Y_TICK_LABELS[i], textAnchor: "end", dx: -9, fontSize: 13, fontWeight: "bold", fill: "#111", ariaLabel: "ylab"}),
    Plot.text(idx.filter(i => i % 2 === 0), {x: d => d, y: () => 0.001, text: d => ELEMENTS[d], dy: 13.5, lineAnchor: "middle", fontSize: p.labSize, fontWeight: "bold", fill: "#111", ariaLabel: "xlab"}),
    Plot.text(idx.filter(i => i % 2 === 1), {x: d => d, y: () => 0.001, text: d => ELEMENTS[d], dy: p.oddDy, lineAnchor: "middle", fontSize: p.labSize, fontWeight: "bold", fill: "#111", ariaLabel: "xlab"}),
    Plot.text(["Sample/PM"], {x: () => 0, y: () => Math.sqrt(0.001 * 10000), text: d => d, rotate: -90, dx: -41, fontSize: 16, fontWeight: "bold", fill: "#111"})
  ];
  p.values.forEach((vals, i) => {
    const st = STYLES[p.styles[i]];
    const rows = vals.map((v, j) => ({x: FIRST_WITH_DATA + j, v}));
    marks.push(Plot.line(rows, {x: "x", y: "v", stroke: st.c, strokeWidth: st.w || 1}));
    if (st.s) {
      marks.push(Plot.dot(rows, {
        x: "x", y: "v", r: st.r,
        symbol: CUSTOM_SYMBOLS[st.s] || st.s,
        fill: st.open ? "none" : st.c,
        stroke: st.k || st.c,
        strokeWidth: st.open ? 1.3 : 0.6
      }));
    }
  });
  const svg = Plot.plot({
    width: p.width, height: p.height,
    marginLeft: p.mL, marginRight: p.mR, marginTop: p.mT, marginBottom: p.mB,
    x: {type: "linear", domain: [0, ELEMENTS.length], axis: null},
    y: {type: "log", domain: [0.001, 10000], axis: null},
    style: {background: "transparent", overflow: "visible", fontFamily: "'Liberation Sans', Arial, Helvetica, sans-serif"},
    marks
  });
  const holder = document.createElement("div");
  holder.className = "panel";
  holder.style.left = p.left + "px";
  holder.style.top = p.top + "px";
  holder.style.width = p.width + "px";
  holder.appendChild(svg);
  document.getElementById("root").appendChild(holder);
}
PANELS.forEach(drawPanel);
</script>
</body></html>
